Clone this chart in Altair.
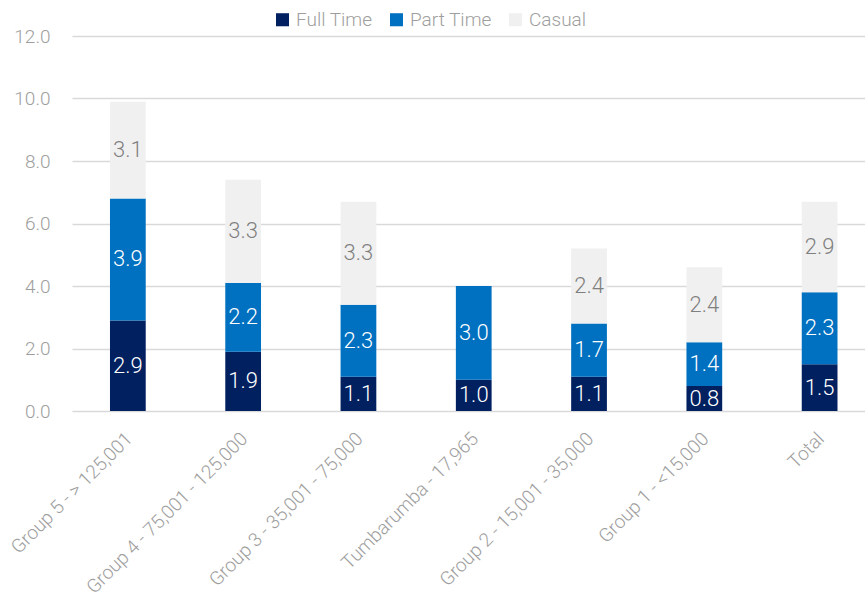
import altair as alt
import pandas as pd

categories = ["Group 5 - > 125,001", "Group 4 - 75,001 - 125,000", "Group 3 - 35,001 - 75,000",
              "Tumbarumba - 17,965", "Group 2 -  15,001 - 35,000", "Group 1 - <15,000", "Total"]
full_time = [2.9, 1.9, 1.1, 1.0, 1.1, 0.8, 1.5]
part_time = [3.9, 2.2, 2.3, 3.0, 1.7, 1.4, 2.3]
casual = [3.1, 3.3, 3.3, 0.0, 2.4, 2.4, 2.9]
series = ["Full Time", "Part Time", "Casual"]
colors = ["#002060", "#0070C0", "#F0F0F0"]
label_colors = ["#FFFFFF", "#FFFFFF", "#7F7F7F"]

rows = []
for i, c in enumerate(categories):
    for j, (s, vals) in enumerate(zip(series, [full_time, part_time, casual])):
        rows.append({"cat": c, "series": s, "value": vals[i], "order": j, "lc": label_colors[j]})
df = pd.DataFrame(rows)

AX_COLOR = "#9E9E9E"

x = alt.X("cat:N", sort=categories, title=None,
          scale=alt.Scale(paddingInner=0.69, paddingOuter=0.284, align=0.58),
          axis=alt.Axis(labelAngle=-45, labelFont="Roboto", labelFontSize=19, labelFontWeight=300,
                        labelColor=AX_COLOR, ticks=False, domain=False, grid=False, labelPadding=18,
                        labelOffset=-5, labelLimit=300))

bars = alt.Chart(df).mark_bar().encode(
    x=x,
    y=alt.Y("value:Q", stack="zero", title=None,
            scale=alt.Scale(domain=[0, 12], nice=False),
            axis=alt.Axis(values=[0, 2, 4, 6, 8, 10, 12], format=".1f", labelFont="Roboto",
                          labelFontSize=19, labelFontWeight=300, labelColor=AX_COLOR,
                          ticks=False, domain=False, gridColor="#D9D9D9", gridWidth=1.5,
                          labelPadding=22)),
    color=alt.Color("series:N", sort=series,
                    scale=alt.Scale(domain=series, range=colors),
                    legend=alt.Legend(title=None, orient="none", direction="horizontal",
                                      legendX=201, legendY=-26, symbolType="square",
                                      symbolSize=170, symbolStrokeWidth=0,
                                      labelFont="Roboto", labelFontSize=19, labelFontWeight=300,
                                      labelColor=AX_COLOR, columnPadding=14, symbolOpacity=1)),
    order=alt.Order("order:Q"),
)

labels = alt.Chart(df).transform_filter("datum.value > 0").transform_stack(
    stack="value", groupby=["cat"], as_=["y0", "y1"], sort=[alt.SortField("order")]
).transform_calculate(mid="(datum.y0 + datum.y1) / 2").mark_text(
    font="Roboto", fontSize=22, fontWeight=300, baseline="middle"
).encode(
    x=alt.X("cat:N", sort=categories),
    y=alt.Y("mid:Q"),
    text=alt.Text("value:Q", format=".1f"),
    color=alt.Color("lc:N", scale=None),
)

chart = alt.layer(bars, labels).properties(
    width=793, height=375,
    autosize=alt.AutoSizeParams(type="none"),
    padding={"left": 72, "top": 36, "right": 0, "bottom": 187},
).configure_view(stroke=None)

chart.save("out.html", embed_options={"renderer": "svg", "actions": False})
